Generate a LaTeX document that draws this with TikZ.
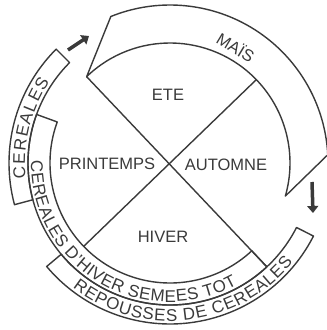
\documentclass[tikz,border=0pt]{standalone}
\usepackage{fontspec}
\setmainfont{Liberation Sans}
\usetikzlibrary{decorations.text,arrows.meta}
\definecolor{ink}{HTML}{3A3A3A}
\newcommand\bandtext{\color{ink}\fontsize{17}{17}\selectfont}
\begin{document}
\begin{tikzpicture}[x=1pt,y=1pt,
  band/.style={draw=ink, line width=1.4pt, line join=round},
  crossline/.style={draw=ink, line width=1.4pt},
  quad/.style={text=ink, font=\fontsize{16.5}{16.5}\selectfont, inner sep=0pt},
  fatarrow/.style={draw=ink, line width=3.5pt, -{Triangle[length=7pt,width=11pt]}}]
\useasboundingbox (0,0) rectangle (327,-330);
\begin{scope}[shift={(170,-163)}]
  % named end points of the cross
  \coordinate (l1a) at (134:120pt);
  \coordinate (l1b) at (313:142pt);
  \coordinate (l2a) at (44:120pt);
  \coordinate (l2b) at (224:120pt);
  % MAIS band (arrow-shaped)
  \draw[band] (134:120pt) arc[start angle=134, end angle=-16, radius=120pt]
     -- (3:158pt) arc[start angle=3, end angle=112, radius=158pt] -- cycle;
  % inner band: cereales d'hiver semees tot
  \draw[band] (160:120pt) arc[start angle=160, end angle=313, radius=120pt]
     -- (313:142pt) arc[start angle=313, end angle=160, radius=142pt] -- cycle;
  % outer left band: cereales
  \draw[band] (135:142pt) arc[start angle=135, end angle=195, radius=142pt]
     -- (195:161pt) arc[start angle=195, end angle=135, radius=161pt] -- cycle;
  % outer bottom band: repousses de cereales
  \draw[band] (220:142pt) arc[start angle=220, end angle=333, radius=142pt]
     -- (333:161pt) arc[start angle=333, end angle=220, radius=161pt] -- cycle;
  % cross
  \draw[crossline] (l1a) -- (l1b);
  \draw[crossline] (l2a) -- (l2b);
  % curved texts
  \path[decorate, decoration={text along path, text={|\bandtext|CEREALES}, text align={fit to path}}]
     (186:145pt) arc[start angle=186, end angle=146, radius=145pt];
  \path[decorate, decoration={text along path, text={|\bandtext|CEREALES D'HIVER SEMEES TOT}, text align={fit to path}}]
     (179:139pt) arc[start angle=179, end angle=299, radius=139pt];
  \path[decorate, decoration={text along path, text={|\bandtext|REPOUSSES DE CEREALES}, text align={fit to path}}]
     (232:158pt) arc[start angle=232, end angle=321, radius=158pt];
\end{scope}
% season labels
\node[quad] (ete) at (168,-95) {ETE};
\node[quad] (printemps) at (107,-164) {PRINTEMPS};
\node[quad] (automne) at (226,-165) {AUTOMNE};
\node[quad] (hiver) at (163,-237) {HIVER};
\node[quad, rotate=-31] (mais) at (236,-47) {MAÏS};
% small arrows
\coordinate (a1s) at (68,-50);
\coordinate (a1e) at (89,-36);
\coordinate (a2s) at (312,-182);
\coordinate (a2e) at (313,-213);
\draw[fatarrow] (a1s) -- (a1e);
\draw[fatarrow] (a2s) -- (a2e);
\end{tikzpicture}
\end{document}
